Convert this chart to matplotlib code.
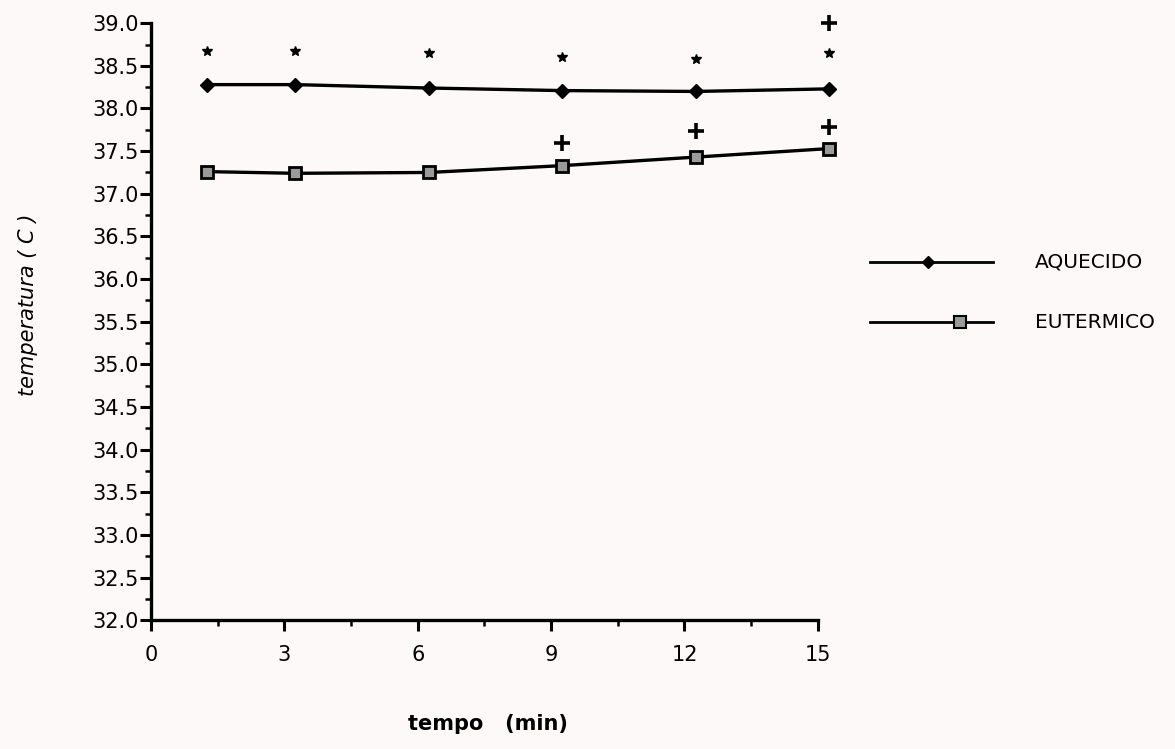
import matplotlib.pyplot as plt
import numpy as np
from matplotlib.lines import Line2D
from matplotlib.ticker import MultipleLocator

# time points (min) as placed on the chart
tempo = [1.25, 3.25, 6.25, 9.25, 12.25, 15.25]

# mean temperature of each group
aquecido = [38.28, 38.28, 38.24, 38.21, 38.20, 38.23]
eutermico = [37.26, 37.24, 37.25, 37.33, 37.43, 37.53]

# significance marks: '*' above AQUECIDO at every time, '+' for EUTERMICO
star_y = [38.68, 38.68, 38.65, 38.60, 38.58, 38.65]
plus_tempo = [9.25, 12.25, 15.25, 15.25]
plus_y = [37.60, 37.74, 37.78, 39.00]

bg = '#fdf9f9'

fig = plt.figure(figsize=(11.75, 7.49), dpi=100, facecolor=bg)
ax = fig.add_axes([0.1285, 0.172, 0.5675, 0.797], facecolor=bg)

ax.plot(tempo, aquecido, color='black', linewidth=2.4, marker='D',
        markersize=7, markerfacecolor='black', clip_on=False, zorder=3)
ax.plot(tempo, eutermico, color='black', linewidth=2.4, marker='s',
        markersize=9, markerfacecolor='#9a9a9a', markeredgecolor='black',
        markeredgewidth=2, clip_on=False, zorder=3)

ax.plot(tempo, star_y, linestyle='none', marker='*', markersize=7,
        color='black', clip_on=False)
ax.plot(plus_tempo, plus_y, linestyle='none', marker='+', markersize=11,
        markeredgewidth=2.6, color='black', clip_on=False)

ax.set_xlim(0, 15)
ax.set_ylim(32.0, 39.0)

ax.xaxis.set_major_locator(MultipleLocator(3))
ax.xaxis.set_minor_locator(MultipleLocator(1.5))
ax.yaxis.set_major_locator(MultipleLocator(0.5))
ax.yaxis.set_minor_locator(MultipleLocator(0.25))
ax.yaxis.set_major_formatter(lambda v, p: f'{v:.1f}')

for side in ['top', 'right']:
    ax.spines[side].set_visible(False)
for side in ['left', 'bottom']:
    ax.spines[side].set_linewidth(2.4)

ax.tick_params(axis='both', which='major', direction='out', length=8,
               width=2.2, labelsize=15, colors='black')
ax.tick_params(axis='both', which='minor', direction='out', length=4,
               width=1.8)
ax.tick_params(axis='y', which='major', pad=1)
ax.tick_params(axis='x', which='major', pad=10)

fig.text(0.024, 1 - 305 / 749, 'temperatura ( C )', rotation=90,
         ha='center', va='center', fontsize=15, style='italic')
fig.text(488 / 1175, 1 - 724 / 749, 'tempo   (min)', ha='center',
         va='center', fontsize=15, fontweight='bold')

# legend drawn by hand on the right side
fig.add_artist(Line2D([870 / 1175, 993 / 1175], [1 - 262 / 749] * 2,
                      color='black', linewidth=2))
fig.add_artist(Line2D([928 / 1175], [1 - 262 / 749], marker='D',
                      markersize=6, color='black'))
fig.text(1035 / 1175, 1 - 262 / 749, 'AQUECIDO', va='center', fontsize=14.5)

fig.add_artist(Line2D([870 / 1175, 993 / 1175], [1 - 322 / 749] * 2,
                      color='black', linewidth=2))
fig.add_artist(Line2D([960 / 1175], [1 - 322 / 749], marker='s',
                      markersize=8, markerfacecolor='#9a9a9a',
                      markeredgecolor='black', markeredgewidth=1.5,
                      linestyle='none'))
fig.text(1035 / 1175, 1 - 322 / 749, 'EUTERMICO', va='center', fontsize=14.5)

fig.savefig('out.png', dpi=100, facecolor=bg)
